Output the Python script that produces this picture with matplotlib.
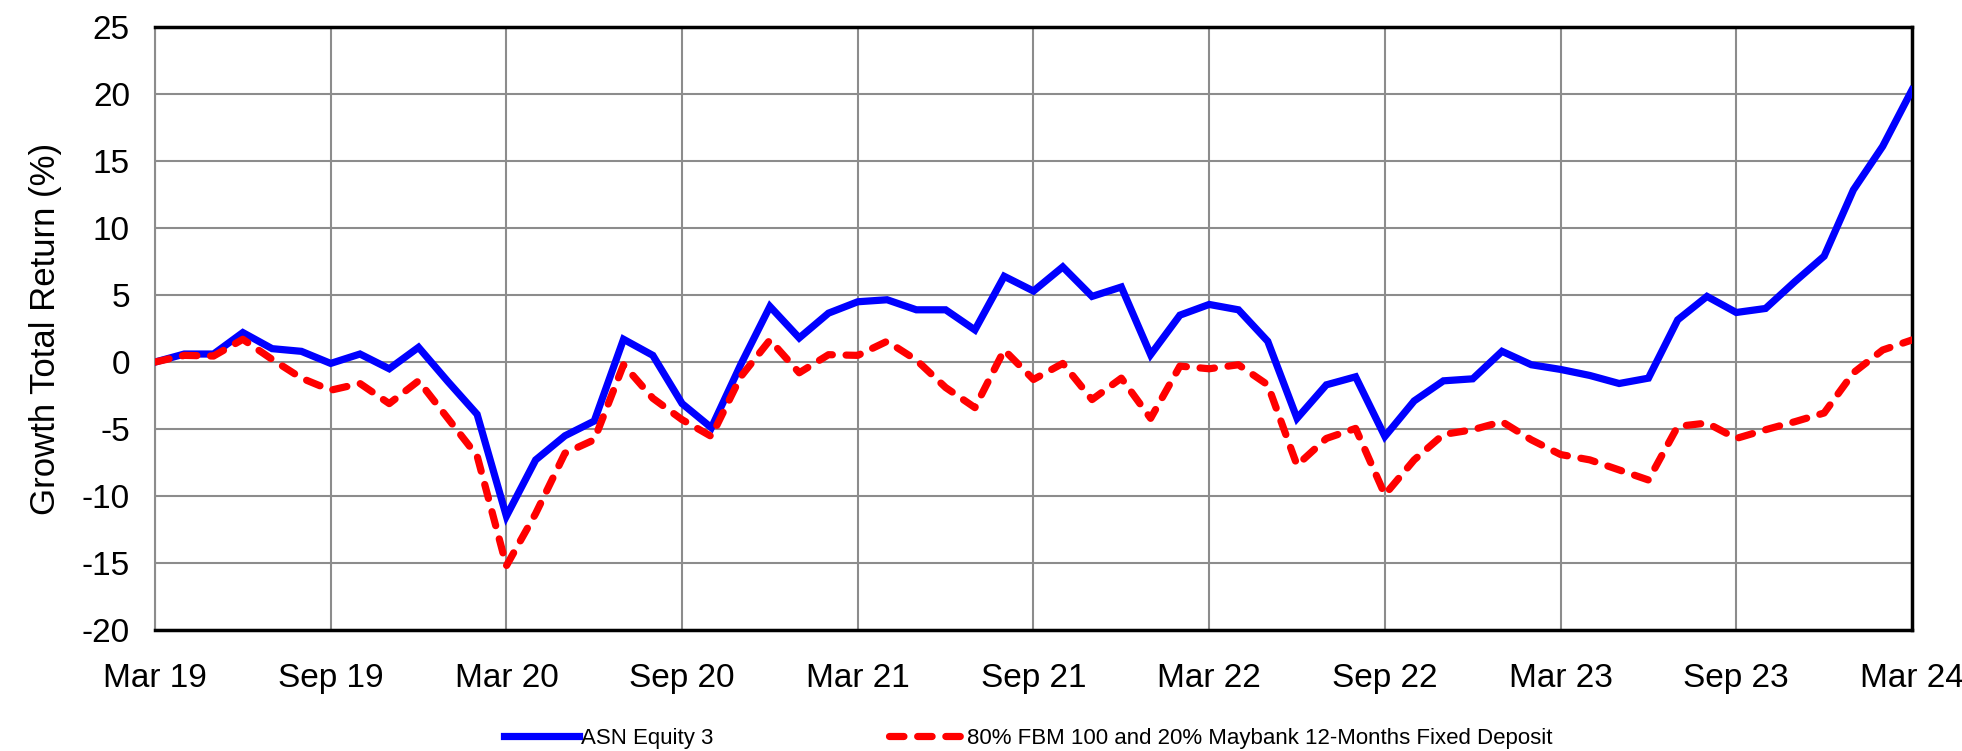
import matplotlib
matplotlib.use("Agg")
import matplotlib.pyplot as plt
import numpy as np

plt.rcParams["font.family"] = ["Liberation Sans", "DejaVu Sans"]
plt.rcParams["axes.unicode_minus"] = False

# monthly growth total return (%), Mar 19 .. Mar 24
asn_equity = [0.0, 0.6, 0.6, 2.2, 1.0, 0.8, -0.1, 0.6, -0.5, 1.1,
              -1.45, -3.9, -11.5, -7.3, -5.5, -4.4, 1.7, 0.5, -3.1, -4.9,
              -0.2, 4.15, 1.8, 3.65, 4.5, 4.65, 3.9, 3.9, 2.4, 6.4,
              5.3, 7.1, 4.9, 5.6, 0.55, 3.5, 4.3, 3.9, 1.55, -4.2,
              -1.7, -1.1, -5.55, -2.9, -1.4, -1.25, 0.8, -0.2, -0.55, -1.0,
              -1.6, -1.2, 3.15, 4.9, 3.7, 4.0, 6.0, 7.9, 12.85, 16.1,
              20.3]
benchmark = [0.0, 0.5, 0.45, 1.7, 0.2, -1.2, -2.1, -1.6, -3.1, -1.4,
             -4.2, -7.0, -15.2, -11.3, -6.8, -5.8, -0.2, -2.7, -4.3, -5.55,
             -1.1, 1.65, -0.8, 0.55, 0.5, 1.55, 0.15, -1.9, -3.4, 0.9,
             -1.3, -0.1, -2.8, -1.2, -4.2, -0.3, -0.5, -0.2, -1.7, -7.7,
             -5.7, -4.95, -9.9, -7.3, -5.4, -5.05, -4.45, -5.8, -6.9, -7.3,
             -8.05, -8.8, -4.8, -4.55, -5.7, -5.05, -4.45, -3.8, -0.8, 0.9,
             1.65]
tick_labels = ["Mar 19", "Sep 19", "Mar 20", "Sep 20", "Mar 21", "Sep 21",
               "Mar 22", "Sep 22", "Mar 23", "Sep 23", "Mar 24"]
series_names = ["ASN Equity 3",
                "80% FBM 100 and 20% Maybank 12-Months Fixed Deposit"]

months = np.arange(len(asn_equity))

fig = plt.figure(figsize=(19.62, 7.51), dpi=100)
ax = fig.add_axes([0.079, 0.161, 0.8955, 0.803])

ax.plot(months, asn_equity, color="#0000ff", lw=5.2, solid_joinstyle="miter",
        label=series_names[0], zorder=3)
ax.plot(months, benchmark, color="#ff0000", lw=5.2, dashes=(2.0, 1.9),
        dash_capstyle="round", label=series_names[1], zorder=3)

ax.set_xlim(0, len(asn_equity) - 1)
ax.set_ylim(-20, 25)
ax.set_xticks(months[::6])
ax.set_xticklabels(tick_labels)
ax.set_yticks(np.arange(-20, 26, 5))
ax.tick_params(axis="both", length=0, labelsize=24)
ax.tick_params(axis="x", pad=24)
ax.tick_params(axis="y", pad=18)

ax.grid(True, color="#8c8c8c", lw=1.5)
ax.set_axisbelow(True)
for side in ["top", "bottom", "right"]:
    ax.spines[side].set_color("black")
    ax.spines[side].set_linewidth(2.5)
ax.spines["left"].set_color("#8c8c8c")
ax.spines["left"].set_linewidth(1.5)

ax.set_ylabel("Growth Total Return (%)", fontsize=25, labelpad=14)

ax.legend(loc="center", bbox_to_anchor=(0.524, 0.017), bbox_transform=fig.transFigure,
          ncol=2, frameon=False, fontsize=16, handlelength=3.4,
          handletextpad=0.1, columnspacing=7.9)

fig.savefig("out.png", dpi=100)
